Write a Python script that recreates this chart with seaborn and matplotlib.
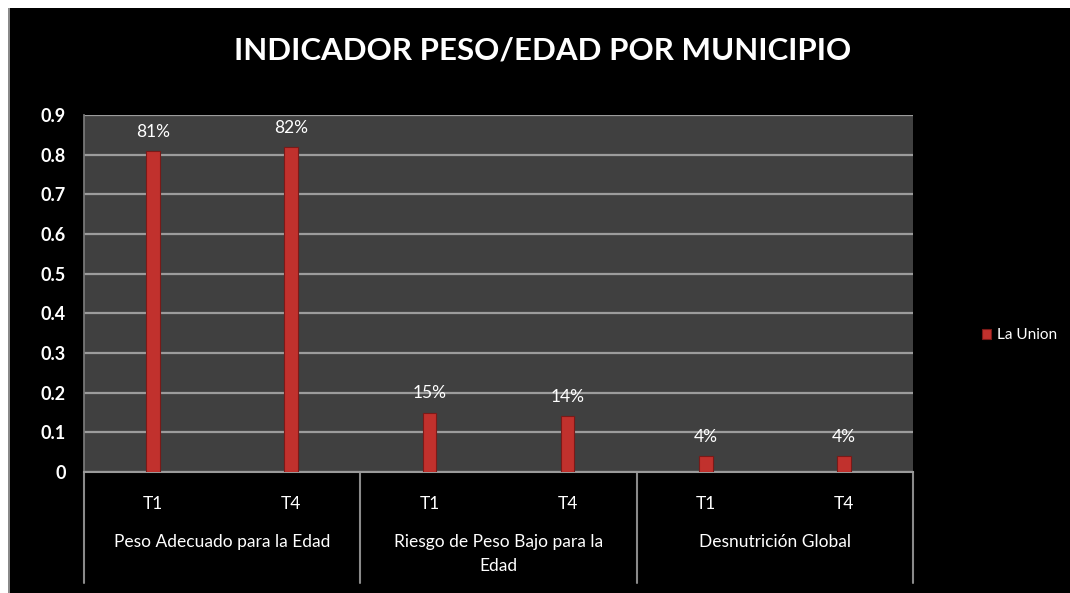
import matplotlib
matplotlib.use("Agg")
import matplotlib.pyplot as plt
import seaborn as sns
import pandas as pd
from matplotlib.patches import Rectangle

groups = ["Peso Adecuado para la Edad", "Riesgo de Peso Bajo para la\nEdad", "Desnutrición Global"]
periods = ["T1", "T4"]
values = [0.81, 0.82, 0.15, 0.14, 0.04, 0.04]
value_labels = ["81%", "82%", "15%", "14%", "4%", "4%"]
yticks = [0, 0.1, 0.2, 0.3, 0.4, 0.5, 0.6, 0.7, 0.8, 0.9]
series_name = "La Union"
title = "INDICADOR PESO/EDAD POR MUNICIPIO"

keys = [f"{g}|{p}" for g in groups for p in periods]
df = pd.DataFrame({"key": keys, "value": values})

sns.set_theme(style="dark")
plt.rcParams['font.family'] = ['Lato', 'DejaVu Sans']

fig = plt.figure(figsize=(10.7, 5.93), dpi=100, facecolor="white")
fig.patches.append(Rectangle((9/1070, 0), 1, (593-8)/593, transform=fig.transFigure,
                             facecolor="black", edgecolor="none", zorder=-10))
fig.patches.append(Rectangle((8/1070, 0), 1.5/1070, (593-8)/593, transform=fig.transFigure,
                             facecolor="#8a8a8a", edgecolor="none", zorder=-9))

ax = fig.add_axes([84/1070, 121/593, (913-84)/1070, (472-115)/593])
ax.set_facecolor("#404040")

sns.barplot(data=df, x="key", y="value", order=keys, color="#c1312d", width=0.1,
            saturation=1, edgecolor="#7a1a18", linewidth=0.8, label=series_name, ax=ax, zorder=3)
if ax.get_legend() is not None:
    ax.get_legend().remove()

ax.set_ylim(0, 0.9)
ax.set_xlim(-0.5, len(keys) - 0.5)
ax.set_yticks(yticks)
ax.set_yticklabels(["0" if v == 0 else f"{v:g}" for v in yticks], color="white",
                   fontsize=13, fontweight="bold")
ax.tick_params(axis="y", length=0, pad=13)
ax.grid(axis="y", color="#9c9c9c", linewidth=1.6, zorder=1)
ax.grid(axis="x", visible=False)
for s in ["top", "right"]:
    ax.spines[s].set_visible(False)
ax.spines["left"].set_color("#7a7a7a")
ax.spines["bottom"].set_color("#9a9a9a")
ax.spines["bottom"].set_linewidth(1.5)

ax.set_xticks(range(len(keys)))
ax.set_xticklabels([k.split("|")[1] for k in keys], color="white", fontsize=12.5)
ax.tick_params(axis="x", length=0, pad=17)
ax.set_xlabel("")
ax.set_ylabel("")

for i, (v, lab) in enumerate(zip(values, value_labels)):
    ax.annotate(lab, (i, v), xytext=(0, 8), textcoords="offset points",
                ha="center", va="bottom", color="white", fontsize=12.5)

trans = ax.get_xaxis_transform()
for gi, g in enumerate(groups):
    ax.text(gi * 2 + 0.5, -0.175, g, transform=trans, ha="center", va="top",
            color="white", fontsize=12.5, linespacing=1.6)
for b in range(len(groups) + 1):
    ax.plot([b * 2 - 0.5, b * 2 - 0.5], [0, -0.31], transform=trans, color="#8a8a8a",
            linewidth=1.5, clip_on=False)

fig.text(0.507, 0.915, title, ha="center", va="center", color="white",
         fontsize=22.5, fontweight="bold")

h, l = ax.get_legend_handles_labels()
leg = fig.legend(h, l, loc="center left", bbox_to_anchor=(0.905, 0.435), frameon=False,
                 fontsize=11, handlelength=0.6, handleheight=0.6, handletextpad=0.4)
for t in leg.get_texts():
    t.set_color("white")

fig.savefig("out.png", dpi=100, facecolor=fig.get_facecolor())
